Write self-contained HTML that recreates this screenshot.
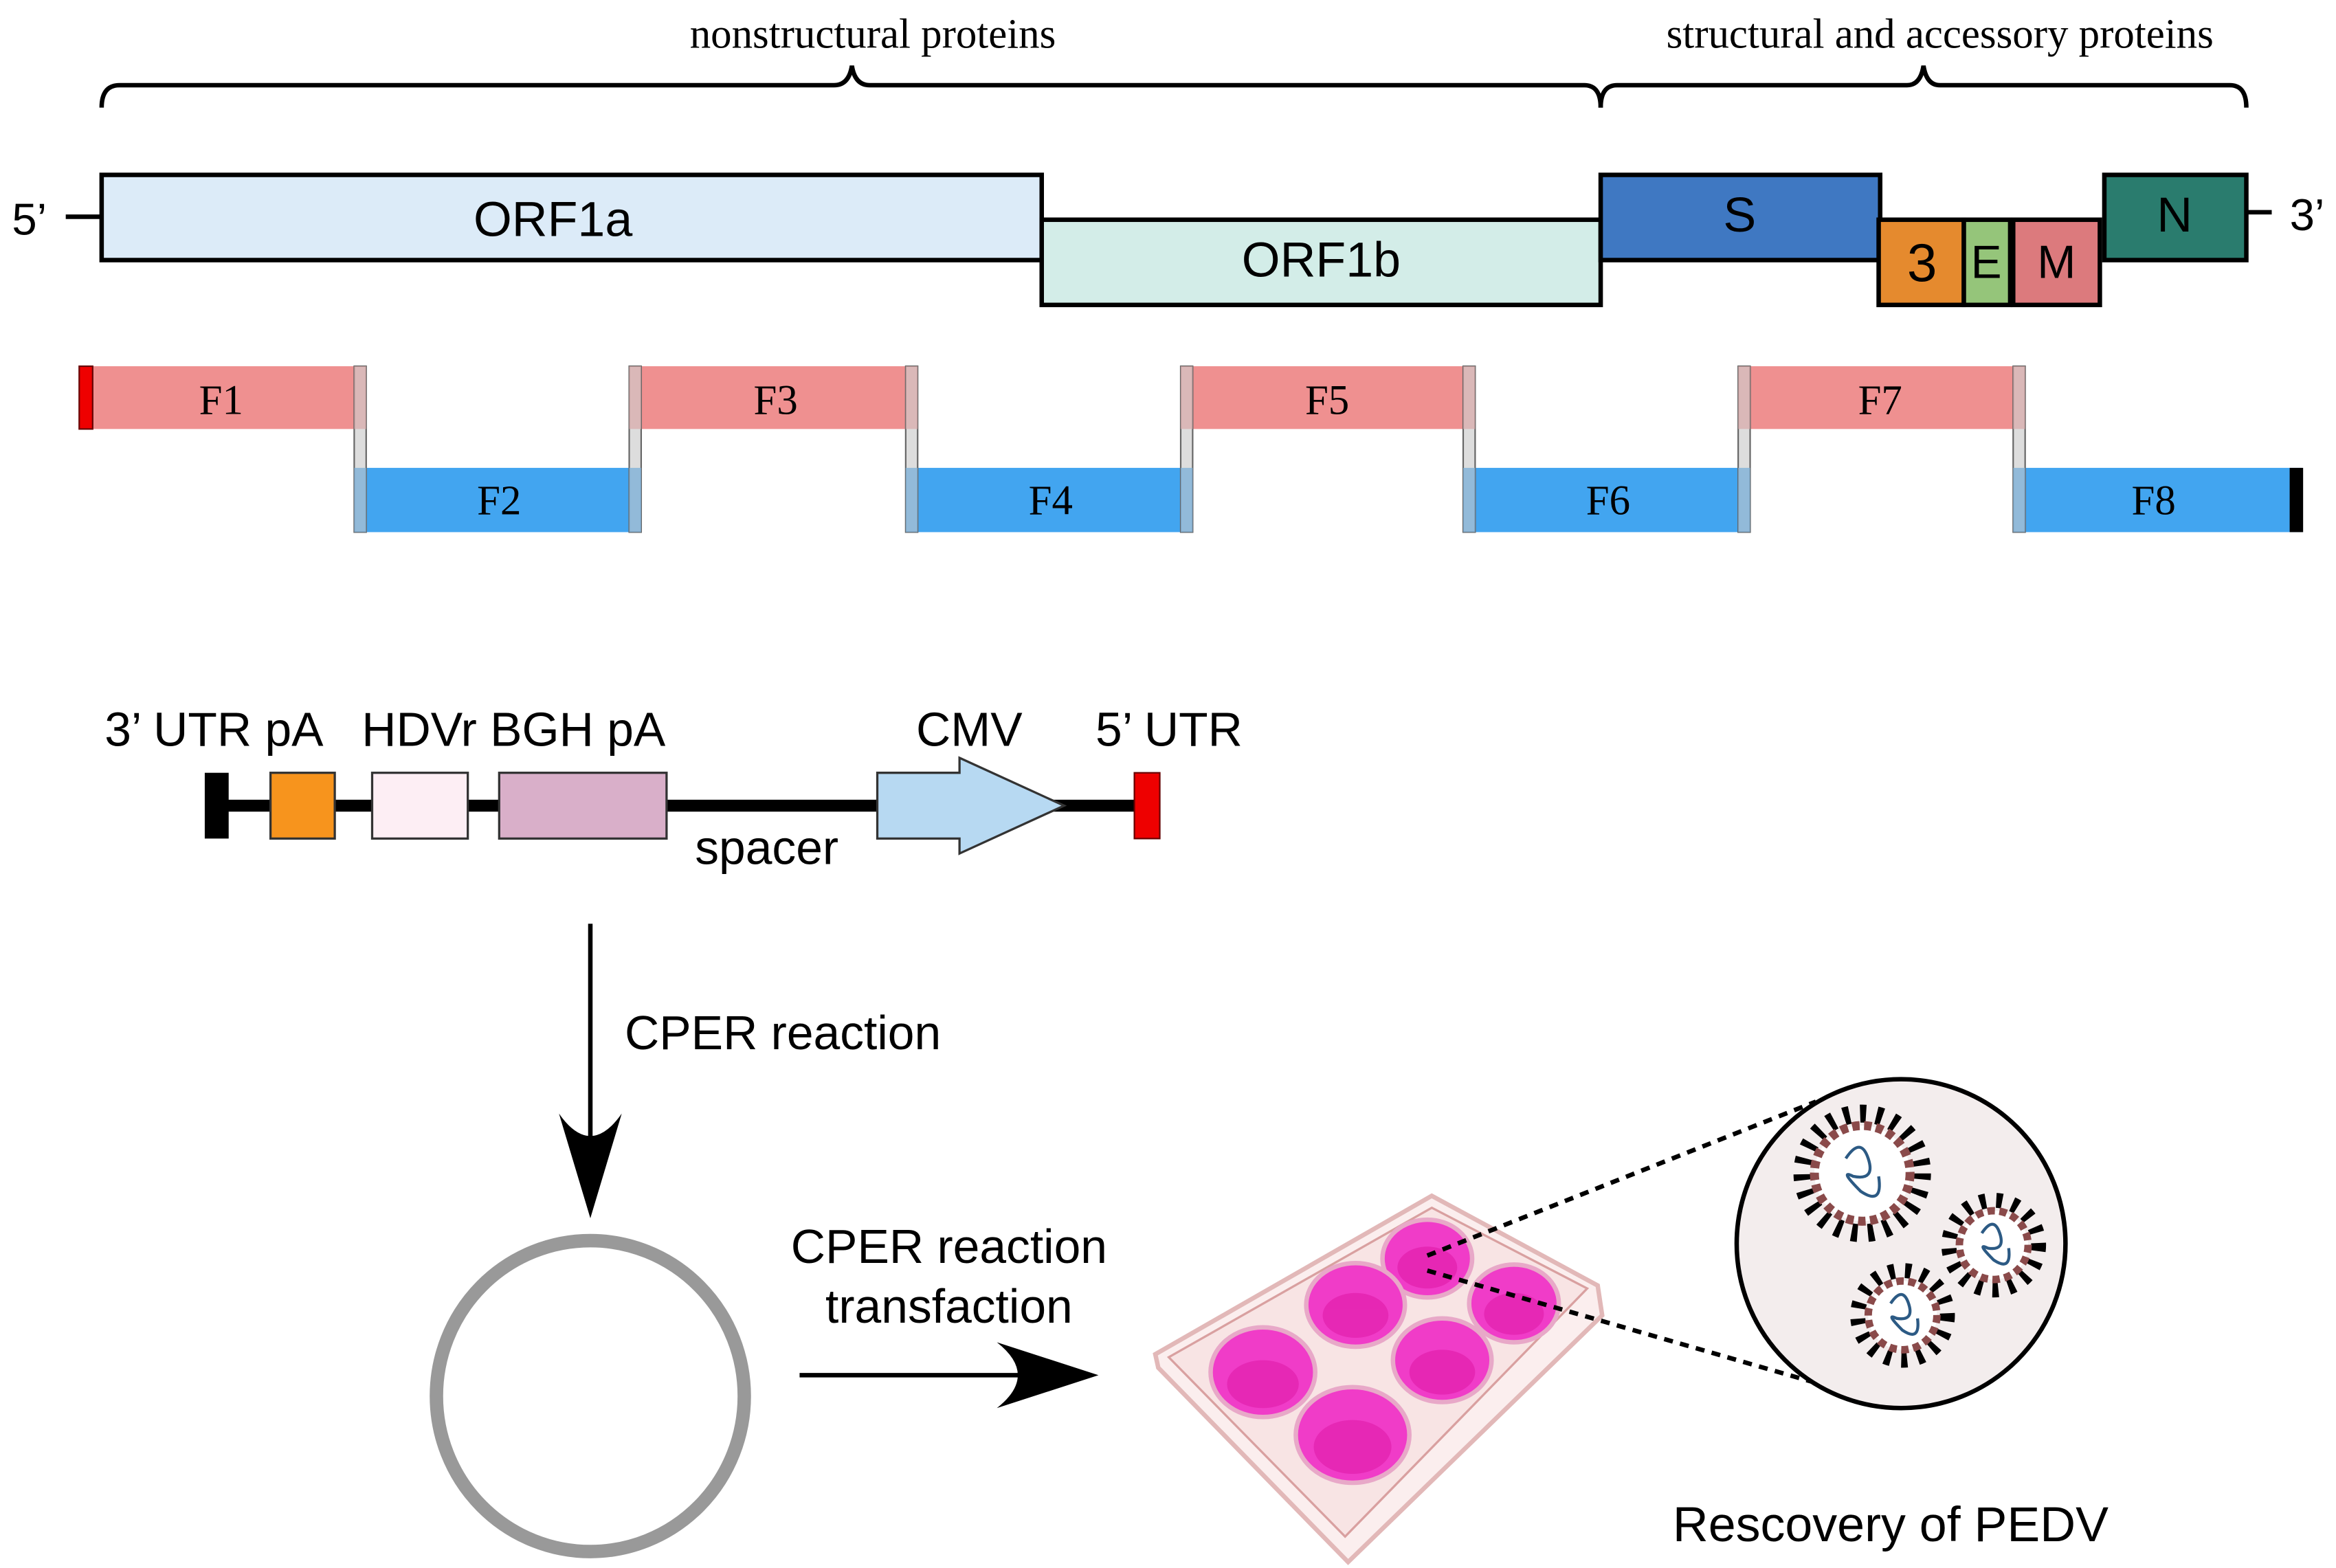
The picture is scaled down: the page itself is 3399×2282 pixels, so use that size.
<!DOCTYPE html>
<html><head><meta charset="utf-8"><style>
html,body{margin:0;padding:0;background:#fff;}
svg{display:block;}
.serif{font-family:"Liberation Serif",serif;}
.sans{font-family:"Liberation Sans",sans-serif;}
</style></head><body>
<svg width="3399" height="2282" viewBox="0 0 1563 1049" preserveAspectRatio="none" xmlns="http://www.w3.org/2000/svg">
<!-- braces -->
<text x="584" y="32" class="serif" font-size="28" text-anchor="middle">nonstructural proteins</text>
<text x="1298" y="32" class="serif" font-size="28" text-anchor="middle">structural and accessory proteins</text>
<path d="M68,72 Q68,57 80,57 L558,57 Q568,57 570,44 Q572,57 582,57 L1060,57 Q1071,57 1071,72" fill="none" stroke="#000" stroke-width="3"/>
<path d="M1071,72 Q1071,57 1082,57 L1276,57 Q1285,57 1287,44 Q1289,57 1298,57 L1492,57 Q1503,57 1503,72" fill="none" stroke="#000" stroke-width="3"/>
<!-- genome -->
<text x="8" y="157" class="sans" font-size="30">5’</text>
<line x1="44" y1="145" x2="68" y2="145" stroke="#000" stroke-width="3"/>
<rect x="68" y="117" width="629" height="57" fill="#dcebf8" stroke="#000" stroke-width="3"/>
<text x="370" y="158" class="sans" font-size="33" text-anchor="middle">ORF1a</text>
<rect x="697" y="147" width="374" height="57" fill="#d3ede8" stroke="#000" stroke-width="3"/>
<text x="884" y="185" class="sans" font-size="33" text-anchor="middle">ORF1b</text>
<rect x="1071" y="117" width="187" height="57" fill="#3f78c2" stroke="#000" stroke-width="3"/>
<text x="1164" y="155" class="sans" font-size="33" text-anchor="middle">S</text>
<rect x="1257" y="147" width="57" height="57" fill="#e58a2e" stroke="#000" stroke-width="3"/>
<text x="1286" y="188" class="sans" font-size="36" text-anchor="middle">3</text>
<rect x="1314" y="147" width="31" height="57" fill="#95c57a" stroke="#000" stroke-width="3"/>
<text x="1329" y="186" class="sans" font-size="31" text-anchor="middle">E</text>
<rect x="1347" y="147" width="58" height="57" fill="#dc7a7d" stroke="#000" stroke-width="3"/>
<text x="1376" y="186" class="sans" font-size="31" text-anchor="middle">M</text>
<rect x="1408" y="117" width="95" height="57" fill="#2a7c6e" stroke="#000" stroke-width="3"/>
<text x="1455" y="155" class="sans" font-size="33" text-anchor="middle">N</text>
<line x1="1503" y1="142" x2="1520" y2="142" stroke="#000" stroke-width="3"/>
<text x="1532" y="154" class="sans" font-size="30">3’</text>
<!-- fragments -->
<g fill="#ef9090">
<rect x="53" y="245" width="190" height="42"/>
<rect x="421" y="245" width="190" height="42"/>
<rect x="790" y="245" width="194" height="42"/>
<rect x="1163" y="245" width="189" height="42"/>
</g>
<g fill="#42a5f0">
<rect x="237" y="313" width="190" height="43"/>
<rect x="606" y="313" width="189" height="43"/>
<rect x="979" y="313" width="189" height="43"/>
<rect x="1347" y="313" width="193" height="43"/>
</g>
<rect x="53" y="245" width="9" height="42" fill="#e00" stroke="#600" stroke-width="1"/>
<rect x="1532" y="313" width="9" height="43" fill="#000"/>
<g stroke="#666" stroke-width="1">
<rect x="237" y="245" width="8" height="111" fill="#ddd"/>
<rect x="421" y="245" width="8" height="111" fill="#ddd"/>
<rect x="606" y="245" width="8" height="111" fill="#ddd"/>
<rect x="790" y="245" width="8" height="111" fill="#ddd"/>
<rect x="979" y="245" width="8" height="111" fill="#ddd"/>
<rect x="1163" y="245" width="8" height="111" fill="#ddd"/>
<rect x="1347" y="245" width="8" height="111" fill="#ddd"/>
</g>
<g fill="#d8a8a8" opacity="0.7"><rect x="237" y="245" width="8" height="42"/><rect x="421" y="245" width="8" height="42"/><rect x="606" y="245" width="8" height="42"/><rect x="790" y="245" width="8" height="42"/><rect x="979" y="245" width="8" height="42"/><rect x="1163" y="245" width="8" height="42"/><rect x="1347" y="245" width="8" height="42"/></g>
<g fill="#7fb2d8" opacity="0.8"><rect x="237" y="313" width="8" height="43"/><rect x="421" y="313" width="8" height="43"/><rect x="606" y="313" width="8" height="43"/><rect x="790" y="313" width="8" height="43"/><rect x="979" y="313" width="8" height="43"/><rect x="1163" y="313" width="8" height="43"/><rect x="1347" y="313" width="8" height="43"/></g>
<g class="serif" font-size="28" text-anchor="middle">
<text x="148" y="277">F1</text><text x="519" y="277">F3</text><text x="888" y="277">F5</text><text x="1258" y="277">F7</text>
<text x="334" y="344">F2</text><text x="703" y="344">F4</text><text x="1076" y="344">F6</text><text x="1441" y="344">F8</text>
</g>
<!-- construct -->
<g class="sans" font-size="32">
<text x="70" y="499">3’ UTR pA</text>
<text x="242" y="499">HDVr BGH pA</text>
<text x="613" y="499">CMV</text>
<text x="733" y="499">5’ UTR</text>
<text x="465" y="578">spacer</text>
</g>
<line x1="145" y1="539" x2="770" y2="539" stroke="#000" stroke-width="8"/>
<rect x="137" y="517" width="16" height="44" fill="#000"/>
<rect x="181" y="517" width="43" height="44" fill="#f7941d" stroke="#333" stroke-width="1.5"/>
<rect x="249" y="517" width="64" height="44" fill="#fdeef4" stroke="#333" stroke-width="1.5"/>
<rect x="334" y="517" width="112" height="44" fill="#d9afc9" stroke="#333" stroke-width="1.5"/>
<polygon points="587,517 642,517 642,507 712,539 642,571 642,561 587,561" fill="#b7d9f2" stroke="#333" stroke-width="1.5"/>
<rect x="759" y="517" width="17" height="44" fill="#e00" stroke="#600" stroke-width="1"/>
<!-- down arrow -->
<line x1="395" y1="618" x2="395" y2="790" stroke="#000" stroke-width="3"/>
<path d="M395,815 L374,745 Q395,775 416,745 Z" fill="#000"/>
<text x="418" y="702" class="sans" font-size="32">CPER reaction</text>
<ellipse cx="395" cy="934" rx="103" ry="104" fill="none" stroke="#999" stroke-width="9"/>
<text x="635" y="845" class="sans" font-size="32" text-anchor="middle">CPER reaction</text>
<text x="635" y="885" class="sans" font-size="32" text-anchor="middle">transfaction</text>
<line x1="535" y1="920" x2="700" y2="920" stroke="#000" stroke-width="3"/>
<path d="M735,920 L667,898 Q695,920 667,942 Z" fill="#000"/>
<!-- plate -->
<polygon points="958,800 1069,860 1072,880 902,1045 775,915 773,906" fill="#fbeeee" stroke="#e2b8b8" stroke-width="3"/>
<polygon points="958,808 1062,862 900,1028 782,908" fill="#f8e4e4" stroke="#d9a0a0" stroke-width="1.5"/>
<g fill="#f03cc8" stroke="#e8a8c8" stroke-width="3">
<ellipse cx="955" cy="842" rx="30" ry="26"/>
<ellipse cx="907" cy="873" rx="33" ry="28"/>
<ellipse cx="1013" cy="872" rx="30" ry="26"/>
<ellipse cx="845" cy="918" rx="35" ry="30"/>
<ellipse cx="965" cy="910" rx="33" ry="28"/>
<ellipse cx="905" cy="960" rx="38" ry="32"/>
</g>
<g fill="#e01aa8" opacity="0.6">
<ellipse cx="955" cy="848" rx="20" ry="14"/>
<ellipse cx="907" cy="880" rx="22" ry="15"/>
<ellipse cx="1013" cy="879" rx="20" ry="14"/>
<ellipse cx="845" cy="926" rx="24" ry="16"/>
<ellipse cx="965" cy="918" rx="22" ry="15"/>
<ellipse cx="905" cy="968" rx="26" ry="18"/>
</g>
<!-- magnifier -->
<line x1="955" y1="840" x2="1215" y2="737" stroke="#000" stroke-width="3" stroke-dasharray="6,5"/>
<line x1="955" y1="850" x2="1218" y2="926" stroke="#000" stroke-width="3" stroke-dasharray="6,5"/>
<ellipse cx="1272" cy="832" rx="110" ry="110" fill="#f3eded" stroke="#000" stroke-width="3"/>
<g>
<circle cx="1246" cy="785" r="40" fill="none" stroke="#000" stroke-width="12" stroke-dasharray="4,7"/>
<circle cx="1246" cy="785" r="32" fill="#fff" stroke="#8a4a4a" stroke-width="6" stroke-dasharray="5,3"/>
<path d="M1235,775 q10,-15 15,0 q5,15 -10,12 q-10,-5 5,10 q15,10 12,-10" fill="none" stroke="#2c5a84" stroke-width="2"/>
<circle cx="1334" cy="833" r="30" fill="none" stroke="#000" stroke-width="10" stroke-dasharray="4,7"/>
<circle cx="1334" cy="833" r="23" fill="#fff" stroke="#8a4a4a" stroke-width="5" stroke-dasharray="5,3"/>
<path d="M1326,825 q8,-12 12,0 q4,12 -8,10 q-8,-4 4,8 q12,8 10,-8" fill="none" stroke="#2c5a84" stroke-width="2"/>
<circle cx="1273" cy="880" r="30" fill="none" stroke="#000" stroke-width="10" stroke-dasharray="4,7"/>
<circle cx="1273" cy="880" r="23" fill="#fff" stroke="#8a4a4a" stroke-width="5" stroke-dasharray="5,3"/>
<path d="M1265,872 q8,-12 12,0 q4,12 -8,10 q-8,-4 4,8 q12,8 10,-8" fill="none" stroke="#2c5a84" stroke-width="2"/>
</g>
<text x="1265" y="1031" class="sans" font-size="33" text-anchor="middle">Rescovery of PEDV</text>
</svg>
</body></html>
